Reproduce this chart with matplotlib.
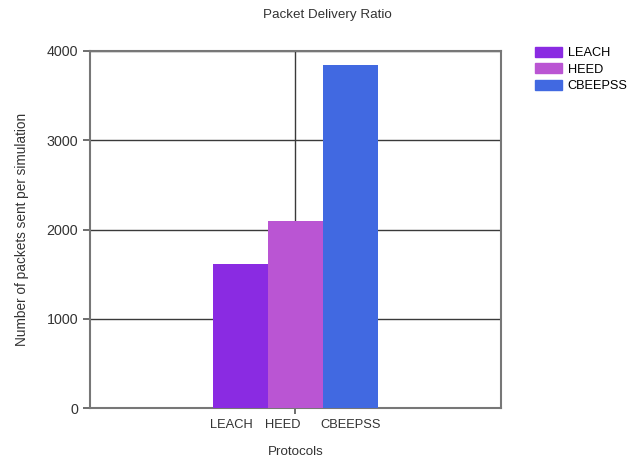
import numpy as np
import matplotlib.pyplot as plt
from matplotlib.patches import Patch

plt.rcParams['font.family'] = ['Liberation Sans', 'DejaVu Sans']

protocols = ['LEACH', 'HEED', 'CBEEPSS']
packets = [1615, 2090, 3845]
colors = ['#8A2BE2', '#BA55D3', '#4169E1']

fig = plt.figure(figsize=(6.27, 4.58), dpi=100)
ax = fig.add_axes([90/627, 1 - 408/458, 411/627, 357/458])

x = np.arange(len(protocols))
ax.bar(x, packets, width=1.0, color=colors, zorder=3)

ax.set_xlim(1 - 411/55/2, 1 + 411/55/2)
ax.set_ylim(0, 4000)
ax.set_yticks([0, 1000, 2000, 3000, 4000])

# one major tick in the middle, category names left-aligned at bar edges
ax.set_xticks([1])
ax.set_xticklabels([''])
ax.set_xticks(x - 0.55, minor=True)
ax.set_xticklabels(protocols, minor=True)
for lbl in ax.get_xticklabels(minor=True):
    lbl.set_ha('left')
ax.tick_params(axis='x', which='minor', length=0, pad=8, labelsize=9.3, colors='#333333')
ax.tick_params(axis='x', which='major', length=4, width=1.2, color='#555555')
ax.tick_params(axis='y', length=5, width=1.2, color='#555555', labelsize=10.3, labelcolor='#333333')

ax.grid(True, color='#3a3a3a', linewidth=1.0, zorder=0)
for s in ax.spines.values():
    s.set_color('#777777')
    s.set_linewidth(1.5)

fig.text(327/627, 1 - 15/458, 'Packet Delivery Ratio', fontsize=9.6, color='#333333',
         ha='center', va='center')
ax.set_xlabel('Protocols', fontsize=9.6, color='#333333', labelpad=11)
ax.set_ylabel('Number of packets sent per simulation', fontsize=9.8, color='#333333', labelpad=13)

handles = [Patch(color=c, label=p) for p, c in zip(protocols, colors)]
fig.legend(handles=handles, loc='upper left', bbox_to_anchor=(526/627, 1 - 38/458),
           frameon=False, fontsize=9.2, handlelength=2.1, handleheight=0.85,
           labelspacing=0.3, handletextpad=0.45, borderpad=0.2)

fig.savefig('out.png', dpi=100)
